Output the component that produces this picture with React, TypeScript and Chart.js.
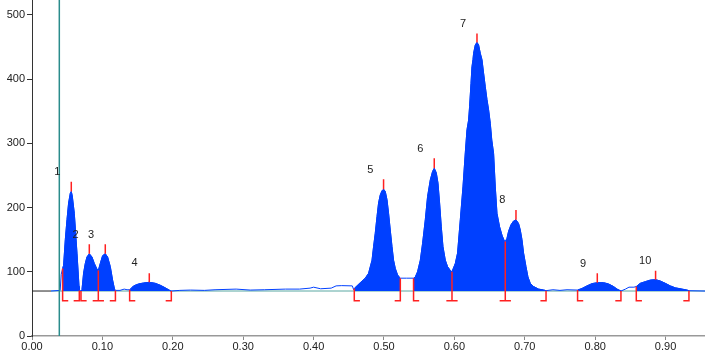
import { useEffect, useRef } from "react";
import { Chart, registerables } from "chart.js";

Chart.register(...registerables);

// ---- data ----
const traceX = [
  0.027, 0.040, 0.0415, 0.0435,
  0.0449, 0.0473, 0.0497, 0.0520, 0.0544, 0.0558, 0.0572, 0.0601, 0.0620, 0.0639, 0.0658, 0.0668, 0.0672,
  0.0696, 0.0710, 0.0733, 0.0757, 0.0781, 0.0814, 0.0852, 0.0885, 0.0923, 0.0942,
  0.0970, 0.1003, 0.1041, 0.1074, 0.1112, 0.1145, 0.1172, 0.1185,
  0.125, 0.131, 0.135, 0.1387,
  0.1396, 0.1443, 0.1514, 0.1585, 0.1666, 0.1751, 0.1822, 0.1893, 0.1964, 0.1979,
  0.21, 0.225, 0.245, 0.26, 0.29, 0.31, 0.33, 0.36, 0.38, 0.395, 0.40, 0.41, 0.425, 0.432, 0.44, 0.455, 0.457, 0.4578,
  0.4663, 0.4734, 0.4781, 0.4830, 0.4852, 0.4876, 0.4901, 0.4923, 0.4947, 0.4972, 0.4994, 0.5018, 0.5043, 0.5065,
  0.5089, 0.5114, 0.5136, 0.5161, 0.5193, 0.5222, 0.5232,
  0.532, 0.5420,
  0.5445, 0.5477, 0.5516, 0.5548, 0.5587, 0.5619, 0.5658, 0.5690, 0.5714, 0.5743, 0.5767, 0.5790, 0.5814, 0.5838,
  0.5871, 0.5903, 0.5942, 0.5966,
  0.6013, 0.6045, 0.6084, 0.6122, 0.6155, 0.6179, 0.6202, 0.6216, 0.6236, 0.6250, 0.6264, 0.6273, 0.6297, 0.6321,
  0.6344, 0.6368, 0.6392, 0.6415, 0.6439, 0.6463, 0.6486, 0.6510, 0.6531, 0.6557, 0.6581, 0.6605, 0.6642, 0.6676,
  0.6709, 0.6723,
  0.6747, 0.6770, 0.6804, 0.6841, 0.6875, 0.6912, 0.6936, 0.6960, 0.6983, 0.7017, 0.7045, 0.7078, 0.7125, 0.7196,
  0.7267, 0.7302,
  0.74, 0.75, 0.76, 0.7750,
  0.7813, 0.7884, 0.7955, 0.8030, 0.8119, 0.8190, 0.8261, 0.8310, 0.8366,
  0.843, 0.848, 0.855, 0.8584,
  0.8641, 0.8712, 0.8783, 0.8858, 0.8925, 0.8996, 0.9067, 0.9138, 0.9233, 0.9304, 0.9332,
  0.956,
];
const traceY = [
  70, 71, 96, 105,
  110, 150, 181, 207, 222, 225, 218, 191, 160, 129, 95, 77, 71,
  70, 72, 98, 113, 123, 128, 123, 113, 104, 102,
  113, 125, 128, 123, 108, 87, 73, 71,
  71, 73, 72, 72,
  72.7, 78, 81, 82.5, 83.6, 82, 79, 75, 70.5, 70,
  71, 71.5, 71, 72, 73, 71.5, 72, 73, 73, 74.5, 76, 73.5, 74.5, 78, 78.4, 78, 72, 74,
  83, 90, 97.6, 118, 139, 160, 186, 207, 219.6, 226, 228.5, 225, 212, 191,
  165, 139, 118, 105, 95, 91, 90,
  90, 90,
  92, 100, 118, 144, 181, 217, 243, 256, 261, 254, 238, 207, 170, 139,
  118, 108, 102, 100,
  113, 129, 181, 232, 285, 321, 336, 357, 393, 419, 430, 440, 453, 457,
  453, 440, 430, 409, 388, 368, 352, 331, 305, 284, 232, 191, 170, 157,
  148, 147,
  152, 163, 173, 179, 181, 175, 165, 150, 129, 108, 92, 82, 77, 73,
  71.6, 70.6,
  72, 71, 72, 71.5,
  74, 78, 81.5, 83, 83, 81, 77, 73, 70,
  73, 76, 76, 77,
  82, 84.6, 87, 87.7, 85.6, 82, 78, 75, 73, 71.5, 70.5,
  70,
];

const peakNames = ["1", "2", "3", "4", "5", "6", "7", "8", "9", "10"];
const peakStart = [0.0435, 0.0696, 0.0942, 0.1387, 0.4578, 0.5420, 0.5966, 0.6723, 0.7750, 0.8584];
const peakEnd = [0.0672, 0.0942, 0.1185, 0.1979, 0.5232, 0.5966, 0.6723, 0.7302, 0.8366, 0.9332];
const startTop = [105, 70, 102, 72, 74, 90, 100, 147, 71.5, 77];
const endTop = [71, 102, 71, 70, 90, 100, 147, 70.6, 70, 70.5];
const apexX = [0.0558, 0.0814, 0.1041, 0.1666, 0.4994, 0.5714, 0.6321, 0.6875, 0.8030, 0.8858];
const apexY = [225, 128, 128, 83.6, 228.5, 261, 457, 181, 83, 87.7];
const apexTop = [240, 143, 143, 97.6, 244, 276.7, 471, 196, 97.6, 101.7];
const labelX = [0.036, 0.062, 0.0838, 0.1458, 0.4806, 0.5516, 0.6122, 0.668, 0.7827, 0.871];
const labelY = [255, 157, 157, 113, 258.6, 291, 485.5, 211, 112, 117];

const xTicks = [0, 0.1, 0.2, 0.3, 0.4, 0.5, 0.6, 0.7, 0.8, 0.9];
const yTicks = [0, 100, 200, 300, 400, 500];
const baselineValue = 70;
const footValue = 55;
const injectionX = 0.0388;
const traceStart = 0.027;

const X_MIN = 0;
const X_MAX = 0.956;
const Y_MIN = 0;
const Y_MAX = 523;

const FONT = "'Liberation Sans', Arial, sans-serif";
const BLUE = "#0040ff";
const RED = "#ff2020";
const FOOT = 0.008;

export default function App() {
  const ref = useRef<HTMLCanvasElement | null>(null);

  useEffect(() => {
    if (!ref.current) return;

    const trace = traceX.map((x, i) => ({ x, y: traceY[i] }));

    const fillSets = peakStart.map((s, i) => ({
      type: "line" as const,
      data: trace.filter((p) => p.x >= s - 1e-6 && p.x <= peakEnd[i] + 1e-6),
      borderColor: BLUE,
      borderWidth: 1,
      backgroundColor: BLUE,
      pointRadius: 0,
      fill: { value: baselineValue },
      order: 5,
    }));

    const gap = (x: number) => ({ x, y: null as any });
    const apexPts: any[] = [];
    apexX.forEach((x, i) => {
      apexPts.push({ x, y: apexY[i] }, { x, y: apexTop[i] }, gap(x));
    });
    const bndPts: any[] = [];
    peakStart.forEach((x, i) => {
      bndPts.push({ x, y: startTop[i] }, { x, y: footValue }, { x: x + FOOT, y: footValue }, gap(x + FOOT));
    });
    peakEnd.forEach((x, i) => {
      bndPts.push({ x: x - FOOT, y: footValue }, { x, y: footValue }, { x, y: endTop[i] }, gap(x));
    });

    const labelPlugin = {
      id: "peakLabels",
      afterDatasetsDraw(chart: any) {
        const { ctx, scales } = chart;
        ctx.save();
        ctx.fillStyle = "#222";
        ctx.font = `11px ${FONT}`;
        ctx.textAlign = "center";
        ctx.textBaseline = "middle";
        peakNames.forEach((n, i) => {
          ctx.fillText(n, scales.x.getPixelForValue(labelX[i]), scales.y.getPixelForValue(labelY[i]));
        });
        ctx.restore();
      },
    };

    const chart = new Chart(ref.current, {
      type: "line",
      data: {
        datasets: [
          {
            data: apexPts,
            borderColor: RED,
            borderWidth: 1.5,
            pointRadius: 0,
            spanGaps: false,
            order: 0,
          },
          {
            data: bndPts,
            borderColor: RED,
            borderWidth: 1.5,
            pointRadius: 0,
            spanGaps: false,
            order: 0,
          },
          {
            data: [
              { x: injectionX, y: Y_MIN },
              { x: injectionX, y: Y_MAX },
            ],
            borderColor: "#2a8c8c",
            borderWidth: 1.5,
            pointRadius: 0,
            order: 1,
          },
          {
            data: trace,
            borderColor: BLUE,
            borderWidth: 1,
            pointRadius: 0,
            order: 2,
          },
          ...fillSets,
          {
            data: [
              { x: traceStart, y: baselineValue },
              { x: X_MAX, y: baselineValue },
            ],
            borderColor: "#5aa8a2",
            borderWidth: 1,
            pointRadius: 0,
            order: 8,
          },
          {
            data: [
              { x: X_MIN, y: baselineValue },
              { x: traceStart, y: baselineValue },
            ],
            borderColor: "#222",
            borderWidth: 1,
            pointRadius: 0,
            order: 8,
          },
        ] as any,
      },
      options: {
        animation: false,
        responsive: true,
        maintainAspectRatio: false,
        events: [],
        layout: { padding: 0 },
        elements: { line: { tension: 0 } },
        plugins: {
          legend: { display: false },
          tooltip: { enabled: false },
        },
        scales: {
          x: {
            type: "linear",
            min: X_MIN,
            max: X_MAX,
            afterBuildTicks: (s: any) => {
              s.ticks = xTicks.map((v) => ({ value: v }));
            },
            afterFit: (s: any) => {
              s.height = 15;
              s.paddingLeft = 0;
              s.paddingRight = 0;
            },
            ticks: {
              autoSkip: false,
              maxRotation: 0,
              padding: 0,
              color: "#222",
              font: { family: FONT, size: 11 },
              callback: (v: any) => Number(v).toFixed(2),
            },
            grid: { drawOnChartArea: false, drawTicks: true, tickLength: 4, color: "#888" },
            border: { color: "#999", width: 1.5 },
          },
          y: {
            type: "linear",
            min: Y_MIN,
            max: Y_MAX,
            afterBuildTicks: (s: any) => {
              s.ticks = yTicks.map((v) => ({ value: v }));
            },
            afterFit: (s: any) => {
              s.width = 32;
              s.paddingTop = 0;
              s.paddingBottom = 0;
            },
            ticks: {
              padding: 2,
              color: "#222",
              font: { family: FONT, size: 11 },
            },
            grid: { drawOnChartArea: false, drawTicks: true, tickLength: 5, color: "#333" },
            border: { color: "#333", width: 1 },
          },
        },
      },
      plugins: [labelPlugin],
    } as any);

    return () => chart.destroy();
  }, []);

  return (
    <div style={{ position: "fixed", left: 0, top: 0, width: 705, height: 351, background: "#fff" }}>
      <canvas ref={ref} />
    </div>
  );
}
